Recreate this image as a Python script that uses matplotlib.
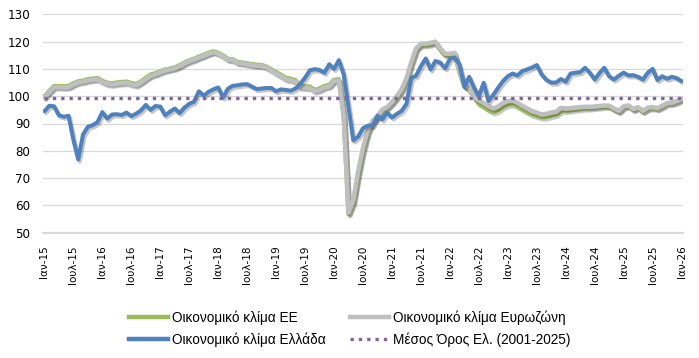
import numpy as np
import matplotlib
matplotlib.use('Agg')
import matplotlib.pyplot as plt
import matplotlib.patheffects as pe
from matplotlib import font_manager
from matplotlib.lines import Line2D

#%% data (monthly, Ιαν-15 ... Ιαν-26)
esi_eu = [99.9, 101.9, 103.7, 103.7, 103.6, 103.7, 104.7, 105.4, 105.7, 106.2, 106.4, 106.6,
          105.6, 104.9, 104.7, 105.0, 105.2, 105.3, 104.8, 104.4, 105.4, 106.7, 107.9, 108.4,
          109.1, 109.7, 110.1, 110.5, 111.3, 112.3, 113.1, 113.7, 114.5, 115.1, 115.9, 116.4,
          115.9, 114.9, 113.7, 113.5, 112.5, 112.3, 112.0, 111.7, 111.5, 111.4, 110.8, 109.8,
          108.8, 107.8, 106.7, 106.4, 105.8, 103.7, 103.6, 103.5, 102.3, 102.8, 103.7, 104.1,
          106.0, 106.2, 93.2, 56.8, 60.8, 71.0, 79.8, 86.5, 90.2, 92.2, 94.6, 95.6,
          97.4, 99.5, 102.0, 105.8, 111.8, 117.0, 118.7, 118.8, 119.0, 119.5, 117.0, 115.0,
          115.0, 115.4, 108.6, 103.6, 102.2, 99.8, 97.2, 96.2, 95.0, 94.2, 94.9, 96.2,
          96.9, 97.1, 96.3, 95.2, 94.2, 93.3, 92.8, 92.2, 92.4, 92.9, 93.3, 94.7,
          94.7, 94.9, 95.2, 95.4, 95.6, 95.6, 95.8, 96.0, 96.2, 96.1, 95.1, 94.2,
          95.9, 96.3, 95.0, 95.7, 94.3, 95.4, 95.7, 95.3, 96.2, 97.2, 97.3, 97.9,
          98.7]

esi_ea = [99.5, 101.5, 103.3, 103.3, 103.2, 103.3, 104.3, 105.0, 105.3, 105.8, 106.0, 106.2,
          105.2, 104.5, 104.3, 104.6, 104.8, 104.9, 104.4, 104.0, 105.0, 106.3, 107.5, 108.0,
          108.8, 109.4, 109.8, 110.2, 111.0, 112.0, 112.8, 113.4, 114.2, 114.8, 115.6, 116.1,
          115.6, 114.6, 113.4, 113.2, 112.2, 112.0, 111.7, 111.4, 111.2, 111.1, 110.5, 109.5,
          108.3, 107.3, 106.2, 105.9, 105.3, 103.2, 103.1, 103.0, 101.8, 102.3, 103.2, 103.6,
          105.6, 105.8, 93.0, 57.3, 62.0, 72.5, 81.0, 87.5, 91.0, 92.8, 95.1, 96.0,
          97.8, 100.0, 102.5, 106.5, 112.5, 117.5, 119.2, 119.2, 119.5, 120.0, 117.5, 115.6,
          115.5, 115.9, 109.2, 104.3, 103.1, 99.5, 98.5, 97.5, 96.3, 95.5, 96.2, 97.5,
          98.2, 98.4, 97.6, 96.5, 95.5, 94.5, 94.0, 93.3, 93.5, 94.0, 94.3, 95.7,
          95.5, 95.6, 95.8, 96.0, 96.1, 96.1, 96.2, 96.4, 96.6, 96.5, 95.5, 94.6,
          96.3, 96.6, 95.3, 96.0, 94.6, 95.8, 96.0, 95.6, 96.5, 97.5, 97.6, 98.2,
          99.0]

esi_gr = [94.5, 96.5, 96.3, 93.0, 92.5, 92.8, 84.0, 76.8, 86.0, 88.8, 89.4, 90.5,
          94.2, 91.8, 93.3, 93.4, 93.1, 94.0, 92.7, 93.6, 94.8, 96.8, 95.0, 96.4,
          96.2, 93.0, 94.3, 95.5, 93.8, 95.8, 97.2, 98.0, 101.8, 100.2, 101.6, 102.5,
          103.2, 99.5, 102.7, 103.8, 104.0, 104.3, 104.4, 103.5, 102.6, 102.8, 103.0, 103.0,
          101.8, 102.5, 102.3, 102.0, 102.8, 104.5, 106.8, 109.5, 109.9, 109.6, 108.6, 111.7,
          110.0, 113.2, 108.0, 96.0, 83.8, 85.2, 88.3, 89.2, 89.3, 92.8, 91.5, 94.0,
          92.2, 93.5, 94.6, 97.2, 106.7, 107.5, 111.0, 113.8, 109.8, 112.9, 112.3, 110.2,
          113.6, 114.2, 111.6, 103.4, 107.1, 103.1, 100.0, 104.9, 98.2, 100.5, 103.1, 105.5,
          107.3, 108.3, 107.6, 109.2, 109.8, 110.5, 111.4, 108.0, 106.0, 105.0, 105.0, 106.3,
          105.3, 108.3, 108.6, 108.8, 110.4, 108.6, 106.1, 108.5, 110.4, 107.3, 106.1, 107.5,
          108.6, 107.6, 107.7, 107.1, 106.1, 108.6, 110.0, 105.9, 107.3, 106.4, 107.1, 106.6,
          105.5]

avg_gr = 99.5  # Μέσος Όρος Ελ. (2001-2025)

tick_labels = ['Ιαν-15', 'Ιουλ-15', 'Ιαν-16', 'Ιουλ-16', 'Ιαν-17', 'Ιουλ-17', 'Ιαν-18', 'Ιουλ-18',
               'Ιαν-19', 'Ιουλ-19', 'Ιαν-20', 'Ιουλ-20', 'Ιαν-21', 'Ιουλ-21', 'Ιαν-22', 'Ιουλ-22',
               'Ιαν-23', 'Ιουλ-23', 'Ιαν-24', 'Ιουλ-24', 'Ιαν-25', 'Ιουλ-25', 'Ιαν-26']

names = ['Οικονομικό κλίμα ΕΕ', 'Οικονομικό κλίμα Ευρωζώνη', 'Οικονομικό κλίμα Ελλάδα', 'Μέσος Όρος Ελ. (2001-2025)']
colors = ['#9bbb59', '#bfbfbf', '#4f81bd', '#8064a2']

#%% narrow font for the legend if there is one
installed = {f.name for f in font_manager.fontManager.ttflist}
if 'Liberation Sans Narrow' in installed:
    leg_font = {'family': 'Liberation Sans Narrow', 'size': 11}
else:
    leg_font = {'family': 'Liberation Sans', 'size': 9.8}

#%% plot
x = np.arange(len(esi_gr))
shadow = [pe.SimpleLineShadow(offset=(1.2, -1.5), shadow_color='k', alpha=0.22), pe.Normal()]
dots = (0, (1, 1.5))

fig = plt.figure(figsize=(6.99, 3.58), dpi=100)
ax = fig.add_axes([43/699, 1-232.7/358, 640/699, (232.7-14.3)/358])

ax.plot(x, esi_eu, color=colors[0], lw=3.2, solid_capstyle='round', path_effects=shadow)
ax.plot(x, esi_ea, color=colors[1], lw=3.3, solid_capstyle='round', path_effects=shadow)
ax.plot(x, esi_gr, color=colors[2], lw=2.9, solid_capstyle='round', path_effects=shadow)
ax.plot(x, [avg_gr]*len(x), color=colors[3], lw=2.4, linestyle=dots, dash_capstyle='butt')

ax.set_xlim(-0.3, len(x)-1+0.3)
ax.set_ylim(50, 130)
ax.set_yticks(range(50, 131, 10))
ax.set_xticks(x[::6])
ax.set_xticklabels(tick_labels, rotation=90, fontsize=7.5)
ax.tick_params(axis='y', length=0, pad=9, labelsize=8.6)
ax.tick_params(axis='x', length=0, pad=9)
ax.grid(axis='y', color='#d9d9d9', lw=0.9)
ax.set_axisbelow(True)
for s in ['top', 'right', 'left']:
    ax.spines[s].set_visible(False)
ax.spines['bottom'].set_color('#d9d9d9')
ax.spines['bottom'].set_linewidth(1.6)

# legend: column-first order so that rows read EE / Ευρωζώνη, Ελλάδα / Μέσος
h = [Line2D([], [], color=colors[0], lw=3.2),
     Line2D([], [], color=colors[2], lw=3.2),
     Line2D([], [], color=colors[1], lw=3.2),
     Line2D([], [], color=colors[3], lw=2.4, linestyle=dots)]
fig.legend(h, [names[0], names[2], names[1], names[3]],
           loc='center', bbox_to_anchor=(0.5, 0.082), ncol=2, frameon=False, prop=leg_font,
           handlelength=2.9, handletextpad=0.25, columnspacing=1.8, labelspacing=0.6)

fig.savefig('out.png', dpi=100)
